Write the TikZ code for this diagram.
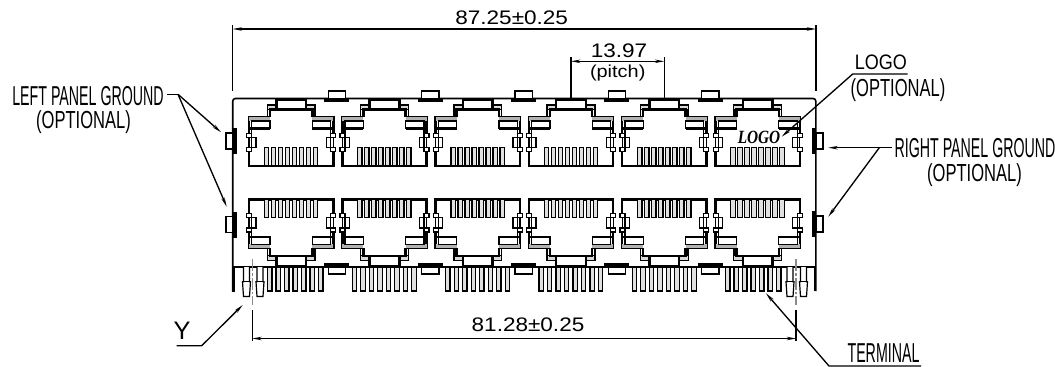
\documentclass[tikz,border=0pt]{standalone}
\usepackage{fontspec}
\usetikzlibrary{arrows.meta}
\setmainfont{Liberation Sans}
\newfontfamily\narrowfont[FakeStretch=0.52]{Liberation Sans}
\newfontfamily\optfont[FakeStretch=0.67]{Liberation Sans}
\newfontfamily\logotopfont[FakeStretch=0.86]{Liberation Sans}
\newfontfamily\logofont[FakeStretch=0.82]{Liberation Serif}
\newfontfamily\widefont[FakeStretch=1.15]{Liberation Sans}
\definecolor{pinfill}{gray}{0.88}
\tikzset{
  heavy/.style={line width=1.9pt,line cap=butt},
  thin1/.style={line width=0.9pt},
  mid/.style={line width=1.2pt},
  dimline/.style={line width=0.9pt},
  leader/.style={line width=1pt},
  tip/.style={-{Stealth[length=7pt,width=2.6pt]}},
  tips/.style={{Stealth[length=7pt,width=2.6pt]}-{Stealth[length=7pt,width=2.6pt]}},
  centre/.style={line width=0.8pt,draw=black!45,dash pattern=on 9pt off 1.5pt on 2pt off 1.5pt},
  dimtext/.style={inner sep=0pt,font=\widefont\fontsize{14.7}{15}\selectfont},
  labeltext/.style={inner sep=0pt,align=center,font=\narrowfont\fontsize{20.5}{21}\selectfont},
  opttext/.style={inner sep=0pt,align=center,font=\optfont\fontsize{18.5}{20}\selectfont},
}
\newcommand{\halfjack}{%
  \draw[heavy] (0,167)--(0,150) (0,134)--(0,117.5)--(21,117.5);
  \draw[thin1,fill=white] (-2.3,133.3) rectangle (2.7,137.3);
  \draw[thin1,fill=white] (-2.3,147.7) rectangle (2.7,151.7);
  \draw[thin1,fill=white] (2.7,137.3) rectangle (7,147.7);
  \draw[thin1] (2.7,117.5)--(2.7,133.3) (0,137.3)--(0,147.7);
  \fill[black!30] (0,117.5) rectangle (21,121);
  \draw[thin1,fill=white] (2.7,121) rectangle (21,128.3);
  \draw[heavy] (0,128.3)--(21,128.3);
  \draw[mid] (18.3,117.5)--(18.3,105)--(27,105);
  \draw[thin1,fill=black!15] (18.3,105) rectangle (27,109.5);
  \draw[heavy] (21,117.5)--(21,109.5)--(27,109.5);
}
\newcommand{\onejack}{%
  \halfjack
  \begin{scope}[shift={(84.3,0)},xscale=-1]\halfjack\end{scope}
  \draw[heavy] (0,166)--(84.3,166);
  \draw[heavy,fill=white] (27.3,99.5) rectangle (57,109.5);
  \foreach \c in {0,...,7}
    \draw[thin1,fill=pinfill] ({15.3+7*\c},147.5) rectangle ({19.7+7*\c},166);
}
\newcommand{\sidetab}[4]{%
  \draw[thin1,fill=white] (#2,#4-8) rectangle (#3,#4+8);
  \draw[line width=3pt] (#1,#4-13) -- (#1,#4+13);
}
\begin{document}
\begin{tikzpicture}[x=0.75pt,y=-0.75pt]
\useasboundingbox (0,0) rectangle (1055,367);
% body
\draw[mid,rounded corners=2pt] (232.7,291.5)--(232.7,98.5)--(815.8,98.5)--(815.8,291);
\draw[mid] (232.7,267)--(815.8,267);
\draw[line width=2pt] (233.5,267)--(233.5,291.5) (815,267)--(815,291);
% top and bottom tabs
\foreach \k in {0,...,4}{
  \draw[thin1,fill=white] ({328.3+93.3*\k},91) rectangle ({345.7+93.3*\k},98.5);
  \draw[line width=2.6pt] ({324.3+93.3*\k},100.2)--({349.3+93.3*\k},100.2);
  \draw[thin1,fill=white] ({328.3+93.3*\k},267) rectangle ({345.7+93.3*\k},274);
  \draw[line width=2.6pt] ({324.3+93.3*\k},265)--({349.3+93.3*\k},265);
}
% jacks
\foreach \k in {0,...,5}{
  \begin{scope}[shift={({249+93.3*\k},0)}]\onejack\end{scope}
  \begin{scope}[shift={({249+93.3*\k},365.3)},yscale=-1]\onejack\end{scope}
}
% side tabs
\sidetab{234.5}{226}{233}{141}
\sidetab{234.5}{226}{233}{224.5}
\sidetab{814}{816}{823}{141}
\sidetab{814}{816}{823}{224}
% pins
\foreach \k/\a/\b in {0/1/7,1/0/7,2/0/7,3/0/7,4/0/7,5/0/6}{
  \foreach \p in {\a,...,\b}
    \draw[thin1,fill=pinfill] ({259+93.3*\k+8.5*\p},267) rectangle ({263.4+93.3*\k+8.5*\p},291);
}
% end pins
\foreach \s in {243.5,257,787,800.5}{
  \draw[thin1,fill=white] (\s,267)--(\s,281.7)--({\s-1},281.7)--(\s,296.5)--({\s+6},296.5)--({\s+7},281.7)--({\s+6},281.7)--({\s+6},267);
  \draw[thin1] ({\s-1},281.7)--({\s+7},281.7);
}
% centre lines
\draw[centre] (252.3,259)--(252.3,305);
\draw[centre] (796,259)--(796,305);
% overall width
\coordinate (tl) at (232.7,91);
\coordinate (tlu) at (232.7,25);
\coordinate (tr) at (816,91);
\coordinate (tru) at (816,25);
\draw[dimline] (tl)--(tlu) (tr)--(tru);
\draw[dimline,tips] (232.7,29)--(816,29);
\node[dimtext] (overall) at (511.7,17.5) {87.25±0.25};
% pitch
\coordinate (pl) at (571,101);
\coordinate (plu) at (571,57);
\coordinate (pr) at (664.3,101);
\coordinate (pru) at (664.3,57);
\draw[dimline] (pl)--(plu) (pr)--(pru);
\draw[dimline,tips] (571,61.3)--(664.3,61.3);
\node[dimtext] (pitchval) at (619,50.5) {13.97};
\node[inner sep=0pt,font=\widefont\fontsize{13}{14}\selectfont] (pitchtxt) at (617.7,73) {(pitch)};
% pin span
\coordinate (bl) at (252.3,310);
\coordinate (bld) at (252.3,341);
\coordinate (br) at (796,310);
\coordinate (brd) at (796,341);
\draw[dimline] (bl)--(bld) (br)--(brd);
\draw[dimline,tips] (252.3,338.5)--(796,338.5);
\node[dimtext] (span) at (528,325) {81.28±0.25};
% left panel label
\node[labeltext] (leftl) at (88,96) {LEFT PANEL GROUND};
\node[opttext] (leftopt) at (83.5,122.5) {(OPTIONAL)};
\coordinate (lj) at (178,94.3);
\coordinate (la) at (221,132.3);
\coordinate (lb) at (226.7,206.7);
\draw[leader] (167,94.3)--(lj);
\draw[leader,tip] (lj)--(la);
\draw[leader,tip] (lj)--(lb);
% right panel label
\node[labeltext] (rightl) at (975,148) {RIGHT PANEL GROUND};
\node[opttext] (rightopt) at (974.5,175) {(OPTIONAL)};
\coordinate (rj) at (879.3,147.7);
\coordinate (ra) at (828.3,147.7);
\coordinate (rb) at (828.3,216.7);
\draw[leader] (891.7,147.7)--(rj);
\draw[leader,tip] (rj)--(ra);
\draw[leader,tip] (rj)--(rb);
% logo
\node[inner sep=0pt,font=\logofont\bfseries\itshape\fontsize{14}{15}\selectfont] (logoin) at (759,137.7) {LOGO};
\node[inner sep=0pt,font=\logotopfont\fontsize{15.7}{17}\selectfont] (logol) at (880.8,62.5) {LOGO};
\node[opttext] (logoopt) at (898,90.5) {(OPTIONAL)};
\coordinate (lgA) at (907.7,74);
\coordinate (lgB) at (852.7,74);
\coordinate (lgC) at (781.7,136.7);
\draw[leader,tip] (lgA)--(lgB)--(lgC);
% terminal
\node[labeltext] (term) at (883.5,353.5) {TERMINAL};
\coordinate (tA) at (921,366);
\coordinate (tB) at (829,366);
\coordinate (tC) at (766,293.3);
\draw[leader,tip] (tA)--(tB)--(tC);
% Y
\node[inner sep=0pt,font=\fontsize{19}{20}\selectfont] (ylab) at (182,330.5) {Y};
\coordinate (yA) at (176.7,345.7);
\coordinate (yB) at (201.7,345.7);
\coordinate (yC) at (242.7,305);
\draw[leader,tip] (yA)--(yB)--(yC);
\end{tikzpicture}
\end{document}
